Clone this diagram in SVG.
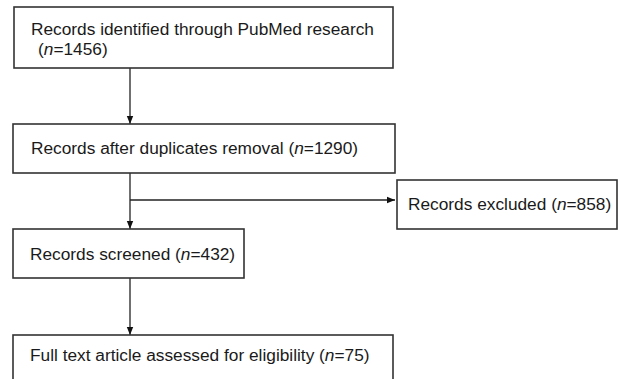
<svg xmlns="http://www.w3.org/2000/svg" width="618" height="379" viewBox="0 0 618 379">
<defs>
<style>
.box{fill:#fff;stroke:#333;stroke-width:1.6}
.t{font-family:"Liberation Sans",Arial,sans-serif;font-size:17.3px;fill:#1a1a1a}
.ln{stroke:#222;stroke-width:1.3;fill:none}
</style>
<marker id="ah" viewBox="0 0 10 10" refX="10" refY="5" markerWidth="8" markerHeight="8" markerUnits="userSpaceOnUse" orient="auto"><path d="M0,1 L10,5 L0,9 Z" fill="#111"/></marker>
</defs>
<rect width="618" height="379" fill="#fff"/>
<g id="connectors">
<line class="ln" x1="130" y1="68" x2="130" y2="124" marker-end="url(#ah)"/>
<line class="ln" x1="130" y1="173" x2="130" y2="229" marker-end="url(#ah)"/>
<line class="ln" x1="130" y1="200" x2="395" y2="200" marker-end="url(#ah)"/>
<line class="ln" x1="130" y1="278" x2="130" y2="335" marker-end="url(#ah)"/>
</g>
<g id="n1"><rect class="box" x="14" y="7" width="379" height="61"/>
<text class="t" x="31" y="35">Records identified through PubMed research</text>
<text class="t" x="38" y="55">(<tspan font-style="italic">n</tspan>=1456)</text></g>
<g id="n2"><rect class="box" x="13" y="124" width="382" height="49"/>
<text class="t" x="31" y="154">Records after duplicates removal (<tspan font-style="italic">n</tspan>=1290)</text></g>
<g id="n3"><rect class="box" x="397" y="180" width="220" height="49"/>
<text class="t" x="408" y="210">Records excluded (<tspan font-style="italic">n</tspan>=858)</text></g>
<g id="n4"><rect class="box" x="13" y="229" width="231" height="49"/>
<text class="t" x="30" y="260">Records screened (<tspan font-style="italic">n</tspan>=432)</text></g>
<g id="n5"><rect class="box" x="13" y="335" width="380" height="60"/>
<text class="t" x="30" y="361">Full text article assessed for eligibility (<tspan font-style="italic">n</tspan>=75)</text></g>
</svg>
